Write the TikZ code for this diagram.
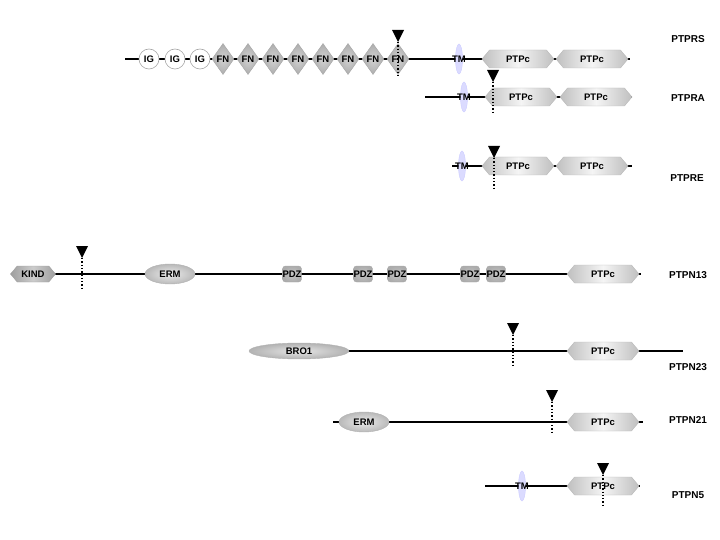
\documentclass[tikz,border=0pt]{standalone}
\usepackage{fontspec}
\setmainfont{Liberation Sans}
\usetikzlibrary{shapes.geometric,shapes.symbols,calc}
\tikzset{
  every node/.style={font=\fontsize{9.5}{11}\selectfont\bfseries, inner sep=0pt},
  backbone/.style={line width=1.3pt, black},
  ptpc/.style={signal, signal to=east and west, signal pointer angle=100,
     minimum width=72pt, minimum height=18pt, draw=gray!55,
     left color=gray!50, right color=gray!50, middle color=gray!8},
  kind/.style={signal, signal to=east and west, signal pointer angle=100,
     minimum width=45pt, minimum height=16pt, draw=gray!75,
     left color=gray!75, right color=gray!75, middle color=gray!40},
  igc/.style={circle, minimum size=20pt, draw=gray!70, fill=white, line width=0.6pt},
  fnd/.style={diamond, minimum width=22pt, minimum height=31pt, draw=gray!70,
     inner color=gray!35, outer color=gray!65},
  pdz/.style={rectangle, rounded corners=3pt, minimum width=16pt, minimum height=16pt,
     draw=gray!70, inner color=gray!45, outer color=gray!65},
  erm/.style={ellipse, minimum width=50pt, minimum height=20pt, draw=gray!60,
     inner color=gray!15, outer color=gray!55},
  bro/.style={ellipse, minimum width=100pt, minimum height=16pt, draw=gray!60,
     inner color=gray!20, outer color=gray!60},
  tmell/.style={ellipse, minimum width=7pt, minimum height=30pt, draw=blue!20,
     fill=blue!14},
  lab/.style={font=\fontsize{10}{12}\selectfont\bfseries},
  dotline/.style={line width=1.3pt, dotted},
}
\newcommand{\cleave}[4]{%
  \coordinate (#1t) at (#2,#3);
  \coordinate (#1b) at (#2,#4);
  \fill (#1t) ++(-6,0) -- ++(12,0) -- ++(-6,12) -- cycle;
  \draw[dotline] ($(#1t)+(0,12)$) -- (#1b);}
\newcommand{\tmseg}[3]{%
  \node[tmell] (#1e) at (#2,#3) {};
  \node (#1) at (#2,#3) {TM};}
\begin{document}
\begin{tikzpicture}[x=1pt,y=-1pt]
\useasboundingbox (0,0) rectangle (720,540);
% ---------- PTPRS
\coordinate (s1) at (125,59); \coordinate (e1) at (630,59);
\draw[backbone] (s1) -- (e1);
\node[igc] (ig1) at (149,59) {IG};
\node[igc] (ig2) at (175,59) {IG};
\node[igc] (ig3) at (200,59) {IG};
\foreach \i/\x in {1/223,2/248,3/273,4/298,5/323,6/348,7/373,8/398}
  \node[fnd] (fn\i) at (\x,59) {FN};
\tmseg{tm1}{459}{59}
\node[ptpc] (p1a) at (518,59) {PTPc};
\node[ptpc] (p1b) at (592,59) {PTPc};
\cleave{c1}{398}{30}{76}
\node[lab] (l1) at (688,39) {PTPRS};
% ---------- PTPRA
\coordinate (s2) at (425,97); \coordinate (e2) at (632,97);
\draw[backbone] (s2) -- (e2);
\tmseg{tm2}{464}{97}
\node[ptpc] (p2a) at (521,97) {PTPc};
\node[ptpc] (p2b) at (596,97) {PTPc};
\cleave{c2}{493}{70}{114}
\node[lab] (l2) at (688,98) {PTPRA};
% ---------- PTPRE
\coordinate (s3) at (452,166); \coordinate (e3) at (632,166);
\draw[backbone] (s3) -- (e3);
\tmseg{tm3}{462}{166}
\node[ptpc] (p3a) at (518,166) {PTPc};
\node[ptpc] (p3b) at (592,166) {PTPc};
\cleave{c3}{494}{146}{190}
\node[lab] (l3) at (687,178) {PTPRE};
% ---------- PTPN13
\coordinate (s4) at (33,274); \coordinate (e4) at (641,274);
\draw[backbone] (s4) -- (e4);
\node[kind] (kind) at (33,274) {KIND};
\node[erm] (erm4) at (170,274) {ERM};
\foreach \i/\x in {1/292,2/363,3/397,4/470,5/496}
  \node[pdz] (pdz\i) at (\x,274) {PDZ};
\node[ptpc] (p4) at (603,274) {PTPc};
\cleave{c4}{82}{246}{290}
\node[lab] (l4) at (688,275) {PTPN13};
% ---------- PTPN23
\coordinate (s5) at (299,351); \coordinate (e5) at (683,351);
\draw[backbone] (s5) -- (e5);
\node[bro] (bro) at (299,351) {BRO1};
\node[ptpc] (p5) at (603,351) {PTPc};
\cleave{c5}{513}{323}{366}
\node[lab] (l5) at (688,367) {PTPN23};
% ---------- PTPN21
\coordinate (s6) at (333,422); \coordinate (e6) at (643,422);
\draw[backbone] (s6) -- (e6);
\node[erm] (erm6) at (364,422) {ERM};
\node[ptpc] (p6) at (603,422) {PTPc};
\cleave{c6}{552}{390}{433}
\node[lab] (l6) at (688,420) {PTPN21};
% ---------- PTPN5
\coordinate (s7) at (485,486); \coordinate (e7) at (640,486);
\draw[backbone] (s7) -- (e7);
\tmseg{tm7}{522}{486}
\node[ptpc] (p7) at (603,486) {PTPc};
\cleave{c7}{603}{463}{506}
\node[lab] (l7) at (688,495) {PTPN5};
\end{tikzpicture}
\end{document}
